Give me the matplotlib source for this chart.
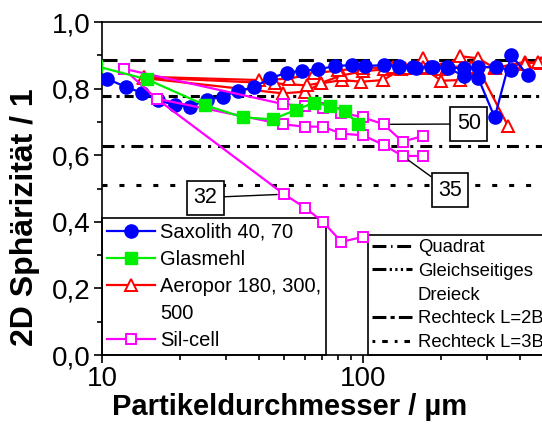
import matplotlib.pyplot as plt
from matplotlib.lines import Line2D
from matplotlib.ticker import LogLocator, MultipleLocator, FuncFormatter, NullFormatter

plt.rcParams['font.family'] = ['Liberation Sans', 'DejaVu Sans']
plt.rcParams['lines.scale_dashes'] = False

# Saxolith 40, 70 (two measurement runs)
sax_a_x = [10.5, 12.4, 14.2, 16.4, 19.0, 21.7, 25.2, 29.0, 33.3, 38.2, 44.0, 51.0, 58.2,
           67.4, 78.1, 90.5, 102, 120, 138, 155, 182, 210, 244, 277, 325, 370]
sax_a_y = [0.829, 0.805, 0.788, 0.766, 0.751, 0.746, 0.766, 0.776, 0.794, 0.804, 0.831, 0.848,
           0.854, 0.858, 0.868, 0.871, 0.868, 0.871, 0.868, 0.866, 0.866, 0.864, 0.861, 0.866,
           0.864, 0.856]
sax_b_x = [138, 160, 185, 212, 244, 277, 320, 370, 428]
sax_b_y = [0.866, 0.862, 0.866, 0.862, 0.838, 0.831, 0.714, 0.901, 0.841]

# Glasmehl
glas_x = [9.5, 14.9, 24.8, 34.7, 45.1, 55.3, 64.9, 75.0, 85.1, 95.9]
glas_y = [0.868, 0.828, 0.751, 0.714, 0.708, 0.736, 0.758, 0.748, 0.734, 0.694]

# Aeropor 180, 300, 500
aer_a_x = [14.5, 49.4, 59.9, 69.4, 83.0, 98.6, 119.6, 140, 170, 200, 235, 277, 360]
aer_a_y = [0.832, 0.786, 0.791, 0.816, 0.826, 0.821, 0.826, 0.858, 0.862, 0.824, 0.826, 0.860, 0.688]
aer_b_x = [14.5, 46.0, 60.9, 69.4, 83.0, 100, 120, 145, 170, 200, 235, 277, 320, 417, 480]
aer_b_y = [0.834, 0.816, 0.810, 0.818, 0.840, 0.852, 0.858, 0.862, 0.891, 0.858, 0.898, 0.891,
           0.862, 0.881, 0.876]
aer_c_x = [14.5, 40, 52, 65, 80, 100, 130, 170, 210, 260, 320, 417, 469]
aer_c_y = [0.836, 0.826, 0.830, 0.846, 0.855, 0.862, 0.864, 0.866, 0.866, 0.866, 0.864, 0.874, 0.881]

# Sil-cell 32, 50, 35
sil32_x = [12.1, 16.2, 49.9, 59.9, 70.3, 82.8, 100.3]
sil32_y = [0.86, 0.77, 0.483, 0.443, 0.40, 0.34, 0.355]
sil50_x = [12.1, 49.4, 59.9, 70.3, 82.8, 100.3, 120, 142, 170]
sil50_y = [0.86, 0.754, 0.748, 0.741, 0.728, 0.714, 0.693, 0.641, 0.658]
sil35_x = [16.2, 49.4, 59.9, 70.3, 82.8, 100.3, 120, 142, 170]
sil35_y = [0.77, 0.693, 0.686, 0.686, 0.665, 0.660, 0.631, 0.598, 0.598]

# reference shapes
quadrat = 0.886
dreieck = 0.778
rechteck_2b = 0.627
rechteck_3b = 0.512

fig = plt.figure(figsize=(5.42, 4.34), dpi=100)
ax = fig.add_axes([0.188, 0.182, 0.963, 0.767])

ref_lw = 2.2
ax.axhline(quadrat, color='black', lw=ref_lw, dashes=(10.8, 9.4), zorder=1.5)
ax.axhline(dreieck, color='black', lw=ref_lw, dashes=(6.5, 3.6, 2.2, 3.6), zorder=1.5)
ax.axhline(rechteck_2b, color='black', lw=ref_lw, dashes=(8.6, 5.0, 2.2, 5.0), zorder=1.5)
ax.axhline(rechteck_3b, color='black', lw=ref_lw, dashes=(3.6, 8.6), zorder=1.5)

red = dict(color='red', lw=1.6, marker='^', ms=8, mfc='white', mec='red', mew=1.4, zorder=3)
for x, y in [(aer_a_x, aer_a_y), (aer_b_x, aer_b_y), (aer_c_x, aer_c_y)]:
    h_aer, = ax.plot(x, y, **red)

blue = dict(color='blue', lw=1.6, marker='o', ms=9.5, mfc='blue', mec='blue', zorder=3.2)
h_sax, = ax.plot(sax_b_x, sax_b_y, **blue)
ax.plot(sax_a_x, sax_a_y, **blue)

mag = dict(color='magenta', lw=1.6, marker='s', ms=6.5, mfc='white', mec='magenta', mew=1.4, zorder=3.4)
for x, y in [(sil32_x, sil32_y), (sil50_x, sil50_y), (sil35_x, sil35_y)]:
    h_sil, = ax.plot(x, y, **mag)

h_glas, = ax.plot(glas_x, glas_y, color='#00ee00', lw=1.6, marker='s', ms=8,
                  mfc='#00ee00', mec='#00ee00', zorder=3.6)

# labelled Sil-cell grades
box = dict(boxstyle='square,pad=0.3', fc='white', ec='black', lw=1.2)
for txt, pt, pos in [('50', (120, 0.693), (254.7, 0.694)),
                     ('35', (142, 0.598), (215.4, 0.495)),
                     ('32', (49.9, 0.483), (24.9, 0.473))]:
    ax.annotate(txt, xy=pt, xytext=pos, ha='center', va='center', fontsize=15.5,
                bbox=box, zorder=4,
                arrowprops=dict(arrowstyle='-', color='black', lw=1.0, shrinkA=0, shrinkB=5))

ax.set_xscale('log')
ax.set_xlim(10, 1000)
ax.set_ylim(0, 1.0)
ax.xaxis.set_major_locator(LogLocator(base=10))
ax.xaxis.set_minor_locator(LogLocator(base=10, subs=range(2, 10)))
ax.xaxis.set_major_formatter(FuncFormatter(lambda v, p: f"{v:g}"))
ax.xaxis.set_minor_formatter(NullFormatter())
ax.yaxis.set_major_locator(MultipleLocator(0.2))
ax.yaxis.set_minor_locator(MultipleLocator(0.1))
ax.yaxis.set_major_formatter(FuncFormatter(lambda v, p: f"{v:.1f}".replace('.', ',')))

ax.tick_params(which='major', direction='out', length=6, width=1.2, labelsize=20, pad=2)
ax.tick_params(which='minor', direction='out', length=3.5, width=1.2)
for s in ax.spines.values():
    s.set_linewidth(1.2)

ax.set_xlabel('Partikeldurchmesser / µm', fontsize=21, fontweight='bold')
ax.xaxis.set_label_coords(0.36, -0.115)
ax.set_ylabel('2D Sphärizität / 1', fontsize=23, fontweight='bold')
ax.yaxis.set_label_coords(-0.119, 0.415)

blank = Line2D([], [], linestyle='none')
leg1 = ax.legend([h_sax, h_glas, h_aer, blank, h_sil],
                 ['Saxolith 40, 70', 'Glasmehl', 'Aeropor 180, 300,', '500', 'Sil-cell'],
                 loc='lower left', bbox_to_anchor=(0, 0), borderaxespad=0, fancybox=False,
                 edgecolor='black', framealpha=1, fontsize=14.5, handlelength=2.4,
                 handletextpad=0.25, borderpad=0.25, labelspacing=0.4)
leg1.get_frame().set_linewidth(1.2)
leg1.set_zorder(2)
ax.add_artist(leg1)

lk = dict(color='black', lw=2.2)
ref_handles = [Line2D([], [], dashes=(10, 3.4, 1.0, 3.4), **lk),
               Line2D([], [], dashes=(10, 2.4, 1.6, 2.4, 1.6, 2.4, 1.6, 2.4), **lk),
               blank,
               Line2D([], [], dashes=(10, 3, 3, 3), **lk),
               Line2D([], [], dashes=(2, 5, 4, 5), **lk)]
leg2 = ax.legend(ref_handles,
                 ['Quadrat', 'Gleichseitiges', 'Dreieck', 'Rechteck L=2B', 'Rechteck L=3B'],
                 loc='lower left', bbox_to_anchor=(0.5096, 0), borderaxespad=0, fancybox=False,
                 edgecolor='black', framealpha=1, fontsize=13.3, handlelength=2.2,
                 handletextpad=0.3, borderpad=0.2, labelspacing=0.37)
leg2.get_frame().set_linewidth(1.2)
leg2.set_zorder(2)

fig.savefig('out.png', dpi=100)
